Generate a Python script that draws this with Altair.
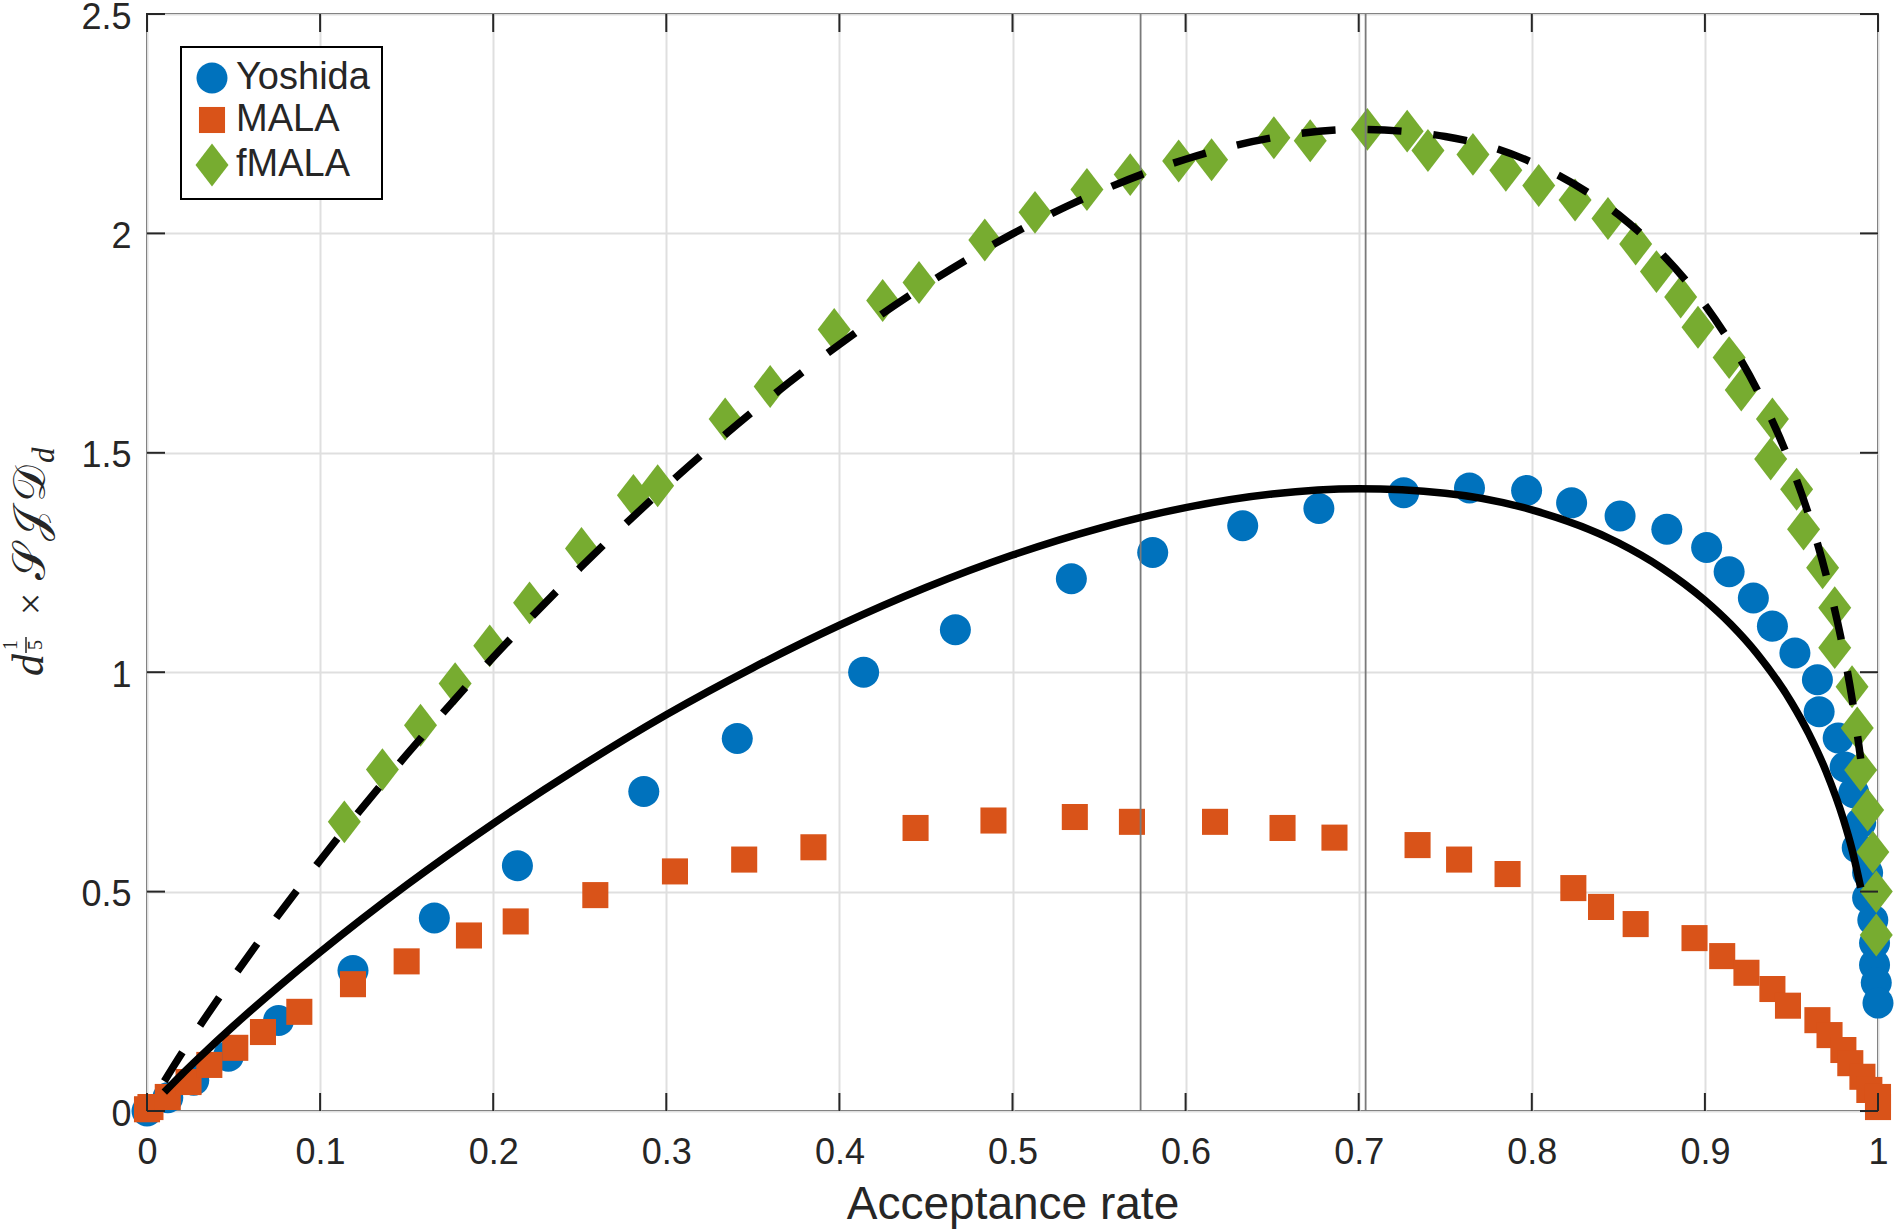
import altair as alt
import pandas as pd

# ---------------- data ----------------
series_names = ["Yoshida", "MALA", "fMALA"]
series_colors = ["#0072BD", "#D95319", "#77AC30"]
# marker outlines (unit box, scaled by the common symbol size)
circle_path = "M0.94,0A0.94,0.94 0 1,1 -0.94,0A0.94,0.94 0 1,1 0.94,0Z"
square_path = "M-0.79,-0.79L0.79,-0.79L0.79,0.79L-0.79,0.79Z"
diamond_path = "M0,-1.3L1,0L0,1.3L-1,0Z"
series_shapes = [circle_path, square_path, diamond_path]
SYM = 1089

yoshida_x = [0.0, 0.012, 0.027, 0.047, 0.076, 0.119, 0.166, 0.214, 0.287, 0.341,
             0.414, 0.467, 0.534, 0.581, 0.633, 0.677, 0.726, 0.764, 0.797, 0.823,
             0.851, 0.878, 0.901, 0.914, 0.928, 0.939, 0.952, 0.965, 0.966, 0.977,
             0.981, 0.986, 0.990, 0.988, 0.994, 0.994, 0.997, 0.998, 0.998, 0.999, 1.0]
yoshida_y = [0.0, 0.030, 0.070, 0.125, 0.206, 0.320, 0.440, 0.559, 0.728, 0.849,
             1.000, 1.097, 1.213, 1.273, 1.334, 1.373, 1.409, 1.420, 1.414, 1.386,
             1.356, 1.326, 1.284, 1.229, 1.169, 1.105, 1.044, 0.983, 0.910, 0.850,
             0.784, 0.725, 0.657, 0.600, 0.543, 0.486, 0.435, 0.383, 0.333, 0.292, 0.246]

mala_x = [0.0, 0.002, 0.012, 0.024, 0.036, 0.051, 0.067, 0.088, 0.119, 0.150,
          0.186, 0.213, 0.259, 0.305, 0.345, 0.385, 0.444, 0.489, 0.536, 0.569,
          0.617, 0.656, 0.686, 0.734, 0.758, 0.786, 0.824, 0.840, 0.860, 0.894,
          0.910, 0.924, 0.939, 0.948, 0.965, 0.972, 0.980, 0.984, 0.991, 0.995,
          1.0, 1.0]
mala_y = [0.004, 0.009, 0.032, 0.066, 0.105, 0.144, 0.180, 0.226, 0.289, 0.341,
          0.400, 0.432, 0.492, 0.546, 0.573, 0.601, 0.645, 0.662, 0.670, 0.659,
          0.659, 0.645, 0.623, 0.606, 0.573, 0.540, 0.508, 0.465, 0.426, 0.394,
          0.353, 0.315, 0.278, 0.240, 0.207, 0.173, 0.139, 0.109, 0.078, 0.048,
          0.032, 0.009]

fmala_x = [0.114, 0.136, 0.158, 0.178, 0.198, 0.221, 0.251, 0.281, 0.295, 0.334,
           0.360, 0.397, 0.425, 0.446, 0.484, 0.513, 0.543, 0.568, 0.596, 0.615,
           0.651, 0.672, 0.705, 0.728, 0.740, 0.766, 0.785, 0.804, 0.825, 0.844,
           0.860, 0.872, 0.886, 0.896, 0.914, 0.921, 0.939, 0.938, 0.953, 0.957,
           0.968, 0.975, 0.975, 0.985, 0.988, 0.990, 0.994, 0.997, 0.999, 0.999]
fmala_y = [0.659, 0.778, 0.879, 0.974, 1.060, 1.158, 1.282, 1.403, 1.425, 1.577,
           1.651, 1.781, 1.847, 1.888, 1.985, 2.048, 2.100, 2.134, 2.165, 2.168,
           2.218, 2.211, 2.237, 2.233, 2.189, 2.180, 2.144, 2.109, 2.076, 2.034,
           1.976, 1.913, 1.855, 1.786, 1.717, 1.643, 1.577, 1.486, 1.417, 1.326,
           1.238, 1.147, 1.056, 0.967, 0.873, 0.777, 0.686, 0.590, 0.500, 0.401]

theory_x = [0.01, 0.02, 0.03, 0.05, 0.075, 0.1, 0.15, 0.2, 0.25, 0.3, 0.35, 0.4,
            0.45, 0.5, 0.55, 0.6, 0.65, 0.7, 0.75, 0.8, 0.85, 0.875, 0.9, 0.915,
            0.93, 0.95, 0.96, 0.97, 0.98, 0.985, 0.99]
solid_y = [0.043, 0.083, 0.121, 0.194, 0.280, 0.362, 0.515, 0.655, 0.784, 0.903,
           1.010, 1.107, 1.193, 1.267, 1.328, 1.375, 1.406, 1.418, 1.408, 1.370,
           1.295, 1.238, 1.164, 1.109, 1.043, 0.931, 0.860, 0.774, 0.665, 0.596, 0.509]
dashed_y = [0.068, 0.131, 0.191, 0.306, 0.442, 0.571, 0.812, 1.034, 1.237, 1.424,
            1.594, 1.747, 1.883, 1.999, 2.095, 2.169, 2.218, 2.237, 2.221, 2.162,
            2.043, 1.954, 1.837, 1.749, 1.645, 1.469, 1.358, 1.222, 1.050, 0.940, 0.803]

ref_lines = [0.574, 0.704]
x_ticks = [0, 0.1, 0.2, 0.3, 0.4, 0.5, 0.6, 0.7, 0.8, 0.9, 1]
y_ticks = [0, 0.5, 1, 1.5, 2, 2.5]

# ---------------- layout / style ----------------
W, H = 1731, 1097
FONT = "Liberation Sans"
SERIF = "Liberation Serif"
TXT = "#262626"
TICK = 18

points = pd.concat([
    pd.DataFrame({"x": yoshida_x, "y": yoshida_y, "series": "Yoshida"}),
    pd.DataFrame({"x": mala_x, "y": mala_y, "series": "MALA"}),
    pd.DataFrame({"x": fmala_x, "y": fmala_y, "series": "fMALA"}),
], ignore_index=True)
points["i"] = range(len(points))

theory = pd.DataFrame({"x": theory_x, "solid": solid_y, "dashed": dashed_y})

xscale = alt.Scale(domain=[0, 1], nice=False, zero=False)
yscale = alt.Scale(domain=[0, 2.5], nice=False, zero=False)

x_axis = alt.Axis(values=x_ticks, format="~g", title="Acceptance rate",
                  labelFont=FONT, labelFontSize=36, labelColor=TXT,
                  labelPadding=24, labelFlush=False, labelOverlap=False,
                  ticks=False, domain=False, grid=True, gridColor="#dfdfdf", gridWidth=2,
                  titleFont=FONT, titleFontSize=46, titleFontWeight="normal",
                  titleColor=TXT, titlePadding=12)
y_axis = alt.Axis(values=y_ticks, format="~g", title=None,
                  labelFont=FONT, labelFontSize=36, labelColor=TXT,
                  labelPadding=16, labelOffset=3, labelFlush=False, labelOverlap=False,
                  ticks=False, domain=False, grid=True, gridColor="#dfdfdf", gridWidth=2)

base_pts = alt.Chart(points).mark_point(filled=True, opacity=1, strokeWidth=0, size=SYM).encode(
    x=alt.X("x:Q", scale=xscale, axis=x_axis),
    y=alt.Y("y:Q", scale=yscale, axis=y_axis),
    color=alt.Color("series:N", scale=alt.Scale(domain=series_names, range=series_colors), title=None),
    shape=alt.Shape("series:N", scale=alt.Scale(domain=series_names, range=series_shapes), title=None),
    order=alt.Order("i:Q"),
)

vlines = alt.Chart(pd.DataFrame({"x": ref_lines})).mark_rule(color="#7a7a7a", strokeWidth=1.8).encode(
    x=alt.X("x:Q", scale=xscale)
)

solid = alt.Chart(theory).mark_line(color="black", strokeWidth=7.5, strokeCap="butt",
                                    interpolate="monotone").encode(
    x=alt.X("x:Q", scale=xscale), y=alt.Y("solid:Q", scale=yscale), order="x:Q")
dashed = alt.Chart(theory).mark_line(color="black", strokeWidth=7.5, strokeCap="butt",
                                     strokeDash=[34, 32], interpolate="monotone").encode(
    x=alt.X("x:Q", scale=xscale), y=alt.Y("dashed:Q", scale=yscale), order="x:Q")

xt = pd.DataFrame({"v": x_ticks})
yt = pd.DataFrame({"v": y_ticks})
tick_style = dict(color=TXT, strokeWidth=2)
ticks_bottom = alt.Chart(xt).mark_rule(**tick_style).encode(
    x=alt.X("v:Q", scale=xscale), y=alt.value(H), y2=alt.value(H - TICK))
ticks_top = alt.Chart(xt).mark_rule(**tick_style).encode(
    x=alt.X("v:Q", scale=xscale), y=alt.value(0), y2=alt.value(TICK))
ticks_left = alt.Chart(yt).mark_rule(**tick_style).encode(
    y=alt.Y("v:Q", scale=yscale), x=alt.value(0), x2=alt.value(TICK))
ticks_right = alt.Chart(yt).mark_rule(**tick_style).encode(
    y=alt.Y("v:Q", scale=yscale), x=alt.value(W - TICK), x2=alt.value(W))

# ---- y-axis title built from pieces: d^(1/5) x SJD_d ----
one = pd.DataFrame({"k": [0]})
def piece(txt, x, y, size, font=SERIF, style="italic", align="center", baseline="alphabetic"):
    return alt.Chart(one).mark_text(text=txt, angle=270, font=font, fontSize=size,
                                    fontStyle=style, color=TXT, align=align,
                                    baseline=baseline).encode(x=alt.value(x), y=alt.value(y))

ytitle = [
    piece("d", -104, 651, 44),
    piece("1", -130, 631, 20, style="normal"),
    piece("5", -105, 631, 20, style="normal"),
    piece("×", -115, 590, 40, style="normal", baseline="middle"),
    piece("𝒮", -102, 566, 46, style="normal", align="left"),
    piece("𝒥", -102, 527, 46, style="normal", align="left"),
    piece("𝒟", -102, 488, 46, style="normal", align="left"),
    piece("d", -93, 449, 31, align="left"),
]
frac_bar = alt.Chart(one).mark_rule(color=TXT, strokeWidth=1.5).encode(
    x=alt.value(-121), y=alt.value(623), y2=alt.value(639))

chart = alt.layer(
    base_pts, vlines, solid, dashed,
    ticks_bottom, ticks_top, ticks_left, ticks_right,
    frac_bar, *ytitle
).properties(
    width=W, height=H,
    autosize=alt.AutoSizeParams(type="none"),
    padding={"left": 147, "top": 14, "right": 18, "bottom": 118},
    background="white",
).configure_view(
    stroke=TXT, strokeWidth=2
).configure_legend(
    orient="none", legendX=34, legendY=33,
    strokeColor="#000000", strokeWidth=2, fillColor="white",
    padding=12, rowPadding=4, labelOffset=5,
    labelFont=FONT, labelFontSize=38, labelColor=TXT,
    symbolSize=SYM, symbolStrokeWidth=0, symbolOpacity=1,
)

chart.save("out.html", embed_options={"renderer": "svg", "actions": False})
